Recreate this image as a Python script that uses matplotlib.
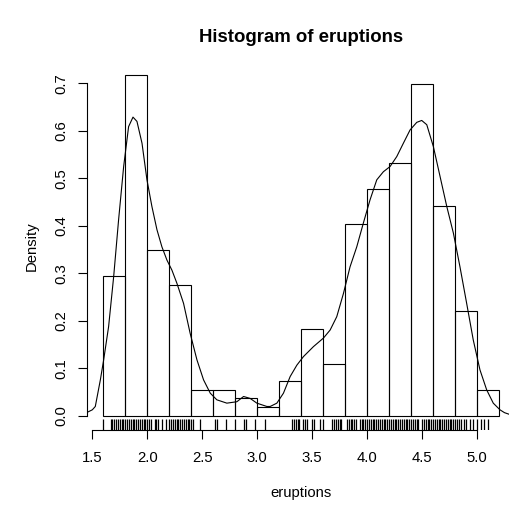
import matplotlib
matplotlib.use("Agg")
import matplotlib.pyplot as plt

# Histogram of eruptions (density scale), bins of width 0.2
bin_edges = [1.6, 1.8, 2.0, 2.2, 2.4, 2.6, 2.8, 3.0, 3.2, 3.4,
             3.6, 3.8, 4.0, 4.2, 4.4, 4.6, 4.8, 5.0]
bin_width = 0.2
densities = [0.294, 0.717, 0.349, 0.276, 0.055, 0.055, 0.037, 0.018, 0.074,
             0.184, 0.110, 0.404, 0.478, 0.533, 0.699, 0.441, 0.221, 0.055]

# kernel density curve
kde_x = [1.456, 1.50, 1.527, 1.573, 1.603, 1.648, 1.694, 1.739, 1.785, 1.83,
         1.87, 1.906, 1.952, 1.997, 2.042, 2.088, 2.133, 2.179, 2.224, 2.27,
         2.33, 2.39, 2.452, 2.512, 2.573, 2.633, 2.724, 2.815, 2.876, 2.936,
         2.997, 3.088, 3.118, 3.179, 3.239, 3.30, 3.361, 3.421, 3.512, 3.603,
         3.664, 3.724, 3.785, 3.845, 3.906, 3.966, 4.027, 4.088, 4.148, 4.209,
         4.27, 4.33, 4.391, 4.452, 4.497, 4.543, 4.603, 4.664, 4.725, 4.785,
         4.845, 4.906, 4.966, 5.027, 5.088, 5.148, 5.209, 5.25, 5.30, 5.35]
kde_y = [0.008, 0.013, 0.020, 0.076, 0.118, 0.188, 0.293, 0.413, 0.525, 0.609,
         0.629, 0.620, 0.574, 0.497, 0.441, 0.392, 0.356, 0.328, 0.307, 0.279,
         0.237, 0.174, 0.118, 0.076, 0.048, 0.034, 0.027, 0.030, 0.041, 0.037,
         0.027, 0.020, 0.020, 0.027, 0.048, 0.083, 0.107, 0.125, 0.146, 0.164,
         0.181, 0.209, 0.258, 0.314, 0.356, 0.406, 0.455, 0.497, 0.514, 0.525,
         0.546, 0.574, 0.602, 0.618, 0.622, 0.613, 0.567, 0.504, 0.441, 0.385,
         0.314, 0.237, 0.160, 0.097, 0.055, 0.027, 0.013, 0.007, 0.003, 0.001]

# rug positions (eruption durations)
rug = [1.6, 1.667, 1.683, 1.7, 1.717, 1.733, 1.75, 1.767, 1.783, 1.8, 1.817,
       1.833, 1.85, 1.867, 1.883, 1.9, 1.917, 1.933, 1.95, 1.967, 1.983, 2.0,
       2.017, 2.033, 2.067, 2.083, 2.1, 2.133, 2.167, 2.2, 2.217, 2.233, 2.25,
       2.267, 2.283, 2.3, 2.317, 2.333, 2.35, 2.367, 2.383, 2.4, 2.417, 2.483,
       2.617, 2.633, 2.717, 2.8, 2.883, 2.9, 2.983, 3.067, 3.317, 3.333, 3.35,
       3.367, 3.383, 3.417, 3.433, 3.45, 3.5, 3.517, 3.567, 3.6, 3.683, 3.7,
       3.717, 3.733, 3.75, 3.767, 3.817, 3.833, 3.85, 3.867, 3.883, 3.9, 3.933,
       3.95, 3.967, 3.983, 4.0, 4.017, 4.033, 4.05, 4.067, 4.083, 4.1, 4.117,
       4.133, 4.15, 4.167, 4.183, 4.2, 4.217, 4.233, 4.25, 4.267, 4.283, 4.3,
       4.317, 4.333, 4.35, 4.367, 4.383, 4.4, 4.417, 4.433, 4.45, 4.467, 4.5,
       4.517, 4.533, 4.55, 4.567, 4.583, 4.6, 4.617, 4.633, 4.65, 4.667, 4.683,
       4.7, 4.717, 4.733, 4.75, 4.767, 4.783, 4.8, 4.817, 4.833, 4.85, 4.883,
       4.9, 4.933, 4.967, 5.0, 5.033, 5.067, 5.1]

x_ticks = [1.5, 2.0, 2.5, 3.0, 3.5, 4.0, 4.5, 5.0]
x_tick_labels = ["1.5", "2.0", "2.5", "3.0", "3.5", "4.0", "4.5", "5.0"]
y_ticks = [0.0, 0.1, 0.2, 0.3, 0.4, 0.5, 0.6, 0.7]
y_tick_labels = ["0.0", "0.1", "0.2", "0.3", "0.4", "0.5", "0.6", "0.7"]

plt.rcParams["font.family"] = ["Liberation Sans", "DejaVu Sans"]

fig = plt.figure(figsize=(5.09, 5.08), dpi=100)
ax = fig.add_axes([0.1719, 0.1543, 0.8395, 0.7243])

ax.bar(bin_edges, densities, width=bin_width, align="edge",
       fill=False, edgecolor="black", linewidth=0.8)

ax.plot(kde_x, kde_y, color="black", linewidth=0.8)

# rug along the bottom of the plot region
ax.vlines(rug, 0, 0.03, color="black", linewidth=0.9,
          transform=ax.get_xaxis_transform())

ax.set_xlim(1.456, 5.344)
ax.set_ylim(-0.0287, 0.7457)

for side in ["top", "right"]:
    ax.spines[side].set_visible(False)
ax.spines["left"].set_bounds(0.0, 0.7)
ax.spines["bottom"].set_bounds(1.5, 5.0)
ax.spines["left"].set_linewidth(0.8)
ax.spines["bottom"].set_linewidth(0.8)

ax.set_xticks(x_ticks)
ax.set_xticklabels(x_tick_labels)
ax.set_yticks(y_ticks)
ax.set_yticklabels(y_tick_labels, rotation=90, va="center")

ax.tick_params(axis="both", length=6.5, width=0.8, labelsize=10.7)
ax.tick_params(axis="x", pad=9)
ax.tick_params(axis="y", pad=7.5)

fig.text(0.5914, 1 - 37 / 508, "Histogram of eruptions",
         ha="center", va="center", fontsize=13.4, fontweight="bold")
fig.text(0.5914, 1 - 493 / 508, "eruptions", ha="center", va="center",
         fontsize=10.7)
fig.text(32 / 509, 1 - 246 / 508, "Density", ha="center", va="center",
         rotation=90, fontsize=10.7)

fig.savefig("out.png", dpi=100)
plt.close(fig)
